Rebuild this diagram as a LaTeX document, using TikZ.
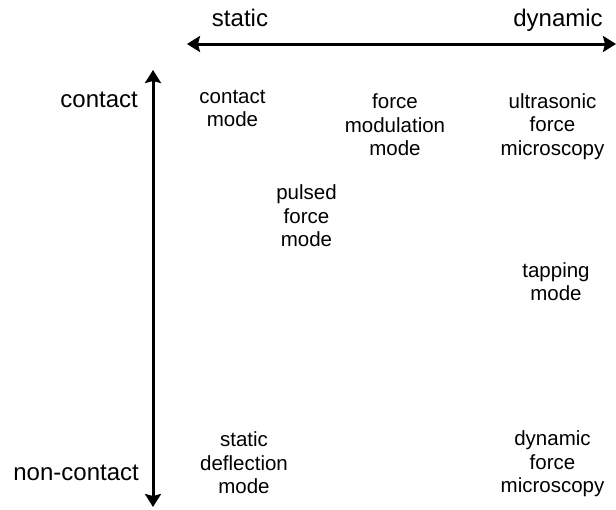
\documentclass[tikz,border=0pt]{standalone}
\usepackage{fontspec}
\setmainfont{Liberation Sans}
\usepackage{tikz}
\usetikzlibrary{arrows.meta}
\tikzstyle{axislabel}=[font=\fontsize{24}{28}\selectfont,inner sep=0pt]
\tikzstyle{modelabel}=[align=center,font=\fontsize{20.5}{23.5}\selectfont,inner sep=0pt]
\tikzstyle{axisarrow}=[line width=3pt,{Stealth[length=13pt,width=16pt,inset=2pt]}-{Stealth[length=13pt,width=16pt,inset=2pt]}]

\begin{document}
\begin{tikzpicture}[x=1pt,y=-1pt]

   \useasboundingbox (0,0) rectangle (616,509);

   % axes
   \coordinate (staticend) at (187,44);
   \coordinate (dynamicend) at (616,44);
   \coordinate (contactend) at (153,70);
   \coordinate (noncontactend) at (153,507);
   \draw[axisarrow] (staticend) -- (dynamicend);
   \draw[axisarrow] (contactend) -- (noncontactend);

   \node[axislabel,anchor=base] (static) at (240,26) {static};
   \node[axislabel,anchor=base] (dynamic) at (558,26) {dynamic};
   \node[axislabel,anchor=base east] (contact) at (138,107) {contact};
   \node[axislabel,anchor=base east] (noncontact) at (139,480) {non-contact};

   % modes
   \foreach \pos/ \name / \label in {{(232.5,108.5)/cmode/{contact\\mode}},
                                     {(395,125)/fmmode/{force\\modulation\\mode}},
                                     {(552.5,126.5)/ufm/{ultrasonic\\force\\microscopy}},
                                     {(306.5,216)/pfmode/{pulsed\\force\\mode}},
                                     {(556,281.5)/tmode/{tapping\\mode}},
                                     {(244,463)/sdmode/{static\\deflection\\mode}},
                                     {(552.5,464)/dfm/{dynamic\\force\\microscopy}}}
        \node[modelabel] (\name) at \pos {\label};

\end{tikzpicture}
\end{document}
